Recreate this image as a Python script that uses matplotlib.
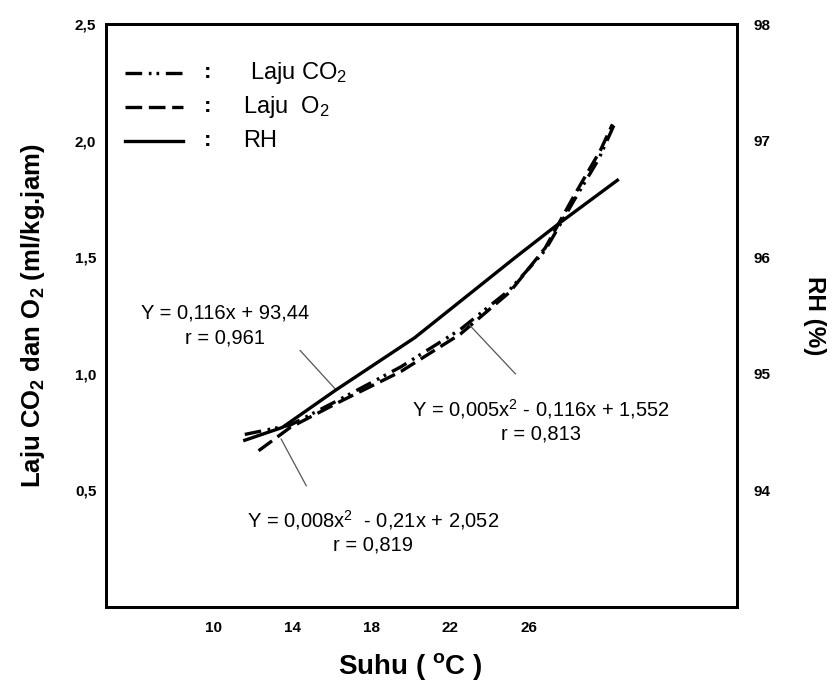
import matplotlib.pyplot as plt
from matplotlib.lines import Line2D

plt.rcParams['font.family'] = ['Liberation Sans', 'DejaVu Sans']
plt.rcParams['mathtext.fontset'] = 'custom'
plt.rcParams['mathtext.rm'] = 'Liberation Sans'
plt.rcParams['mathtext.it'] = 'Liberation Sans:italic'
plt.rcParams['mathtext.bf'] = 'Liberation Sans:bold'

# values
suhu_co2 = [11.6, 13.9, 16.4, 19.5, 22.5, 25.0, 26.8, 28.3, 29.5, 30.35]
laju_co2 = [0.74, 0.78, 0.89, 1.03, 1.19, 1.36, 1.53, 1.75, 1.92, 2.08]
suhu_o2 = [12.3, 13.9, 16.4, 19.5, 22.5, 25.0, 26.8, 28.3, 29.6, 30.2]
laju_o2 = [0.67, 0.77, 0.88, 1.01, 1.17, 1.35, 1.54, 1.77, 1.96, 2.07]
suhu_rh = [11.6, 13.5, 16.2, 20.2, 25.3, 27.5, 30.45]
rh = [94.43, 94.54, 94.86, 95.31, 96.00, 96.29, 96.66]

x_ticks = [10, 14, 18, 22, 26]
left_ticks = [0.5, 1.0, 1.5, 2.0, 2.5]
left_labels = ['0,5', '1,0', '1,5', '2,0', '2,5']
right_ticks = [94, 95, 96, 97, 98]

# regression labels: (text lines, centre in pixels), leader line in data units
eq_labels = [
    (['Y = 0,116x + 93,44', 'r = 0,961'], (225, 313)),
    (['Y = 0,005x$^2$ - 0,116x + 1,552', 'r = 0,813'], (541, 409)),
    (['Y = 0,008x$^2$  - 0,21x + 2,052', 'r = 0,819'], (373, 520)),
]
leaders = [
    ([14.40, 16.23], [1.10, 0.93]),
    ([22.96, 25.29], [1.21, 1.00]),
    ([13.44, 14.71], [0.72, 0.52]),
]

CO2_DASH = (5, 2, 0.8, 1.5, 0.8, 2)
O2_DASH = (5, 2)

W, H = 834, 684
fig = plt.figure(figsize=(W / 100, H / 100), dpi=100)


def px(x, y):
    return x / W, 1 - y / H


ax = fig.add_axes([106 / W, 1 - 607 / H, 631 / W, 583 / H])
ax.set_xlim(4.58, 36.5)
ax.set_ylim(0, 2.5)

ax.plot(suhu_co2, laju_co2, color='black', lw=2.4, dashes=CO2_DASH)
ax.plot(suhu_o2, laju_o2, color='black', lw=2.4, dashes=O2_DASH)

ax2 = ax.twinx()
ax2.set_ylim(93, 98)
ax2.plot(suhu_rh, rh, color='black', lw=2.4)

for xs, ys in leaders:
    ax.plot(xs, ys, color='#555555', lw=0.9)

for spine in list(ax.spines.values()) + list(ax2.spines.values()):
    spine.set_linewidth(2)

tick_font = dict(fontsize=11, fontweight='bold')
ax.set_xticks(x_ticks)
ax.set_xticklabels([str(t) for t in x_ticks], **tick_font)
ax.set_yticks(left_ticks)
ax.set_yticklabels(left_labels, **tick_font)
ax.tick_params(axis='x', length=0, pad=10)
ax.tick_params(axis='y', length=0, pad=7)
ax2.set_yticks(right_ticks)
ax2.set_yticklabels([str(t) for t in right_ticks], **tick_font)
ax2.tick_params(axis='y', length=0, pad=12)

ax.set_xlabel(r'Suhu ( $^{\mathbf{o}}$C )', fontsize=20, fontweight='bold')
ax.xaxis.set_label_coords((410 - 106) / 631, -0.075)
ax.set_ylabel(r'Laju CO$_{\mathbf{2}}$ dan O$_{\mathbf{2}}$ (ml/kg.jam)',
              fontsize=18.5, fontweight='bold', labelpad=20)
ax2.set_ylabel('RH (%)', fontsize=17.5, fontweight='bold', rotation=270, labelpad=40)

# hand-made legend in the top-left corner
legend_rows = [
    (CO2_DASH, 'Laju CO$_2$', 73, 250),
    (O2_DASH, 'Laju  O$_2$', 107, 243),
    (None, 'RH', 141, 243),
]
for dash, label, y, tx in legend_rows:
    x0, yf = px(125, y)
    x1, _ = px(183, y)
    ln = Line2D([x0, x1], [yf, yf], transform=fig.transFigure, color='black', lw=2.4)
    if dash is not None:
        ln.set_dashes(dash)
    fig.add_artist(ln)
    fig.text(*px(208, y), ':', fontsize=16, fontweight='bold', ha='center', va='center')
    fig.text(*px(tx, y), label, fontsize=17, ha='left', va='center')

for lines, (cx, cy) in eq_labels:
    fig.text(*px(cx, cy), lines[0], fontsize=14.5, ha='center', va='center')
    fig.text(*px(cx, cy + 25), lines[1], fontsize=14.5, ha='center', va='center')

fig.savefig('out.png', dpi=100)
